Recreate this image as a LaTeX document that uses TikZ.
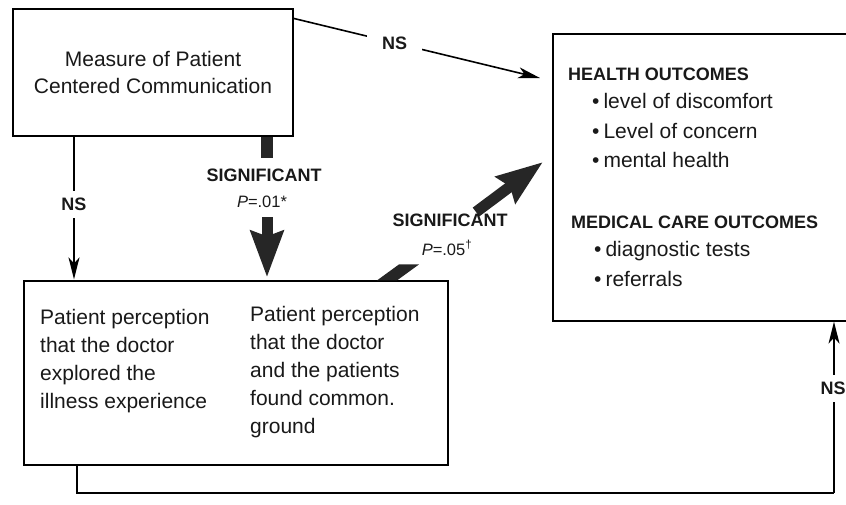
\documentclass[tikz,border=0pt]{standalone}
\usepackage{fontspec}
\setmainfont{Liberation Sans}
\usetikzlibrary{arrows.meta,calc}
\tikzset{
  box/.style={draw, line width=1.2pt, inner sep=0pt},
  bodytext/.style={font=\fontsize{21}{28}\selectfont, inner sep=0pt, anchor=base west, text=black!90},
  lab/.style={font=\fontsize{18}{21}\selectfont\bfseries, inner sep=0pt, text=black!90},
  plab/.style={font=\fontsize{16.5}{19}\selectfont, inner sep=0pt, text=black!90},
  head/.style={font=\fontsize{18}{21}\selectfont\bfseries, inner sep=0pt, anchor=base west, text=black!90},
  thinarrow/.style={line width=1.6pt, -{Stealth[length=22pt,width=11pt,inset=6pt]}},
  thinline/.style={line width=1.6pt},
  fatarrow/.style={line width=11pt, draw=black!85, -{Stealth[length=46pt,width=32pt,inset=5pt]}},
  gap/.style={fill=white, inner xsep=15pt, inner ysep=7pt}
}
\begin{document}
\begin{tikzpicture}[x=1pt,y=-1pt]
\useasboundingbox (0,0) rectangle (846,504);

% boxes
\node[box, minimum width=280pt, minimum height=127pt, align=center,
      font=\fontsize{21}{27}\selectfont, text=black!90] (m) at (153,72.5)
      {Measure of Patient\\Centered Communication};
\node[box, minimum width=300pt, minimum height=287pt] (h) at (703,177.5) {};
\node[box, minimum width=424pt, minimum height=184pt] (p) at (236,373) {};

% box 3 text
\node[bodytext] (c1a) at (40,324) {Patient perception};
\node[bodytext] (c1b) at (40,352) {that the doctor};
\node[bodytext] (c1c) at (40,380) {explored the};
\node[bodytext] (c1d) at (40,408) {illness experience};
\node[bodytext] (c2a) at (250,321) {Patient perception};
\node[bodytext] (c2b) at (250,349) {that the doctor};
\node[bodytext] (c2c) at (250,377) {and the patients};
\node[bodytext] (c2d) at (250,405) {found common.};
\node[bodytext] (c2e) at (250,433) {ground};

% box 2 text
\node[head] (h1) at (568,80) {HEALTH OUTCOMES};
\node[bodytext] (h1a) at (592,108) {•\hspace{4pt}level of discomfort};
\node[bodytext] (h1b) at (592,138) {•\hspace{4pt}Level of concern};
\node[bodytext] (h1c) at (592,167) {•\hspace{4pt}mental health};
\node[head] (h2) at (571,228) {MEDICAL CARE OUTCOMES};
\node[bodytext] (h2a) at (594,256) {•\hspace{4pt}diagnostic tests};
\node[bodytext] (h2b) at (594,286) {•\hspace{4pt}referrals};

% NS top
\coordinate (nsT) at (540,78);
\draw[thinarrow] ($(m.north east)+(0,10)$) -- (nsT)
  node[pos=0.41, lab, gap] (ns1) {NS};

% NS left
\coordinate (nsL) at (74,0);
\draw[thinarrow, shorten >=1pt] (m.south -| nsL) -- (p.north -| nsL)
  node[pos=0.47, lab, gap] (ns2) {NS};

% SIGNIFICANT vertical
\coordinate (s1) at (267,0);
\coordinate (s1a) at (267,158);
\coordinate (s1b) at (267,217);
\draw[line width=12pt, black!85] (m.south -| s1) -- (s1a);
\draw[fatarrow, shorten >=3pt] (s1b) -- (p.north -| s1);
\node[lab] (sig1) at (264,175) {SIGNIFICANT};
\node[plab] (pv1) at (262,202) {\textit{P}=.01*};

% SIGNIFICANT diagonal
\coordinate (s2) at (377,0);
\coordinate (s2b) at (476,212);
\coordinate (s2t) at (543,162);
\fill[black!85] (p.north -| s2) -- ++(20,0) -- ++(22,-16) -- ++(-20,0) -- cycle;
\draw[fatarrow] (s2b) -- (s2t);
\node[lab] (sig2) at (450,220) {SIGNIFICANT};
\node[plab] (pv2) at (447,248) {\textit{P}=.05\textsuperscript{†}};

% NS bottom loop
\coordinate (bL) at (77,493);
\coordinate (bR) at (834,493);
\draw[thinline] (p.south -| bL) -- (bL) -- (bR);
\draw[thinarrow] (bR) -- (h.south -| bR)
  node[pos=0.61, lab, fill=white, inner ysep=7pt, inner xsep=1pt, xshift=-1pt] (ns3) {NS};
\end{tikzpicture}
\end{document}
